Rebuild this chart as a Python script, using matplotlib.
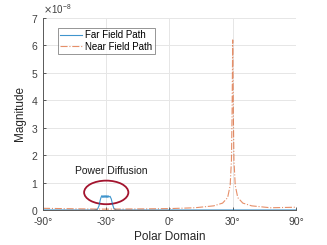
import numpy as np
import matplotlib
matplotlib.use('Agg')
import matplotlib.pyplot as plt
from matplotlib.patches import Ellipse
from matplotlib.ticker import ScalarFormatter

plt.rcParams['font.family'] = ['Liberation Sans', 'DejaVu Sans']

# x values are sin(theta), y values are magnitudes (units of 1e-8)
far_x = [-1.0, -0.6, -0.57, -0.557, -0.548, -0.541, -0.535, -0.53, -0.525, -0.52, -0.515,
         -0.51, -0.505, -0.5, -0.495, -0.49, -0.485, -0.48, -0.47, -0.46, -0.45, -0.439, -0.42, 1.0]
far_y = [0.0, 0.0, 0.02, 0.15, 0.35, 0.46, 0.52, 0.46, 0.52, 0.46, 0.52,
         0.46, 0.52, 0.46, 0.52, 0.46, 0.52, 0.47, 0.5, 0.4, 0.2, 0.05, 0.0, 0.0]

near_x = [-1.0, -0.7, -0.5, -0.2, 0.0, 0.2, 0.35, 0.42, 0.46, 0.48, 0.49, 0.495, 0.5,
          0.505, 0.51, 0.52, 0.54, 0.58, 0.65, 0.8, 1.0]
near_y = [0.06, 0.04, 0.03, 0.04, 0.05, 0.08, 0.15, 0.25, 0.45, 0.9, 1.8, 3.5, 6.2,
          3.5, 1.8, 0.9, 0.45, 0.25, 0.15, 0.08, 0.1]

tick_deg = [-90, -30, 0, 30, 90]

fig = plt.figure(figsize=(3.27, 2.45), dpi=100)
ax = fig.add_axes([0.1315, 0.143, 0.7735, 0.7835])

ax.plot(far_x, np.array(far_y) * 1e-8, color=(0.0, 0.447, 0.741), lw=0.8, alpha=0.75,
        label='Far Field Path')
ax.plot(near_x, np.array(near_y) * 1e-8, color=(0.85, 0.325, 0.098), lw=0.8, ls='-.',
        alpha=0.65, label='Near Field Path')

ax.set_xlim(-1, 1)
ax.set_ylim(0, 7e-8)
ax.set_xticks(np.sin(np.deg2rad(tick_deg)))
ax.set_xticklabels(['%d°' % d for d in tick_deg])
ax.set_yticks(np.arange(0, 8) * 1e-8)
fmt = ScalarFormatter(useMathText=True)
fmt.set_powerlimits((0, 0))
ax.yaxis.set_major_formatter(fmt)
ax.yaxis.get_offset_text().set_fontsize(7)
ax.yaxis.get_offset_text().set_color('0.25')

ax.grid(True, color='0.9', lw=0.7)
ax.set_axisbelow(True)
for s in ['top', 'right']:
    ax.spines[s].set_visible(False)
for s in ['left', 'bottom']:
    ax.spines[s].set_color('0.35')
    ax.spines[s].set_linewidth(0.7)
ax.tick_params(direction='in', labelsize=7.5, colors='0.25', length=2.5, width=0.6)
ax.tick_params(axis='x', pad=5)
ax.set_xlabel('Polar Domain', fontsize=8.5, color='0.15', labelpad=3)
ax.set_ylabel('Magnitude', fontsize=8.5, color='0.15', labelpad=3)

ell = Ellipse((-0.5, 0.64e-8), 0.35, 0.86e-8, fill=False, ec=(0.64, 0.08, 0.18), lw=1.3)
ax.add_patch(ell)
ax.text(-0.46, 1.42e-8, 'Power Diffusion', fontsize=7.5, ha='center', va='center', color='0.1')

leg = ax.legend(loc='upper left', bbox_to_anchor=(0.058, 0.948), fontsize=7, frameon=True,
                fancybox=False, edgecolor='0.4', handlelength=2.3, borderpad=0.25,
                labelspacing=0.15, handletextpad=0.3, borderaxespad=0)
leg.get_frame().set_linewidth(0.6)

fig.savefig('out.png', dpi=100)
